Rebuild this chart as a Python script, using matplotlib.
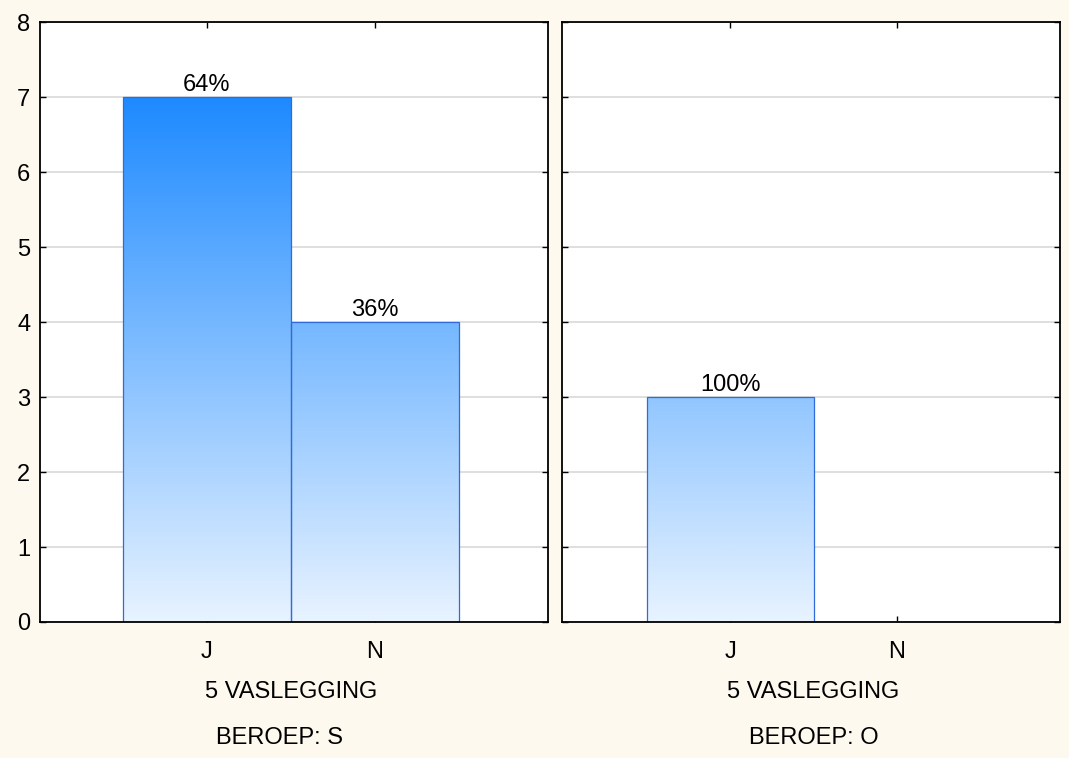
import matplotlib
matplotlib.use("Agg")
import matplotlib.pyplot as plt
import numpy as np
from matplotlib.colors import LinearSegmentedColormap

categories = ["J", "N"]
panels = ["BEROEP: S", "BEROEP: O"]
counts = [[7, 4], [3, 0]]
pct_labels = [["64%", "36%"], ["100%", ""]]
xlabel = "5 VASLEGGING"
yticks = [0, 1, 2, 3, 4, 5, 6, 7, 8]

plt.rcParams['font.family'] = ['Liberation Sans', 'DejaVu Sans']
FS = 17
BG = "#FDF9EE"
W, H = 1069, 758
fig = plt.figure(figsize=(W / 100, H / 100), dpi=100, facecolor=BG)

cmap = LinearSegmentedColormap.from_list("g", ["#E8F3FF", "#1E8AFF"])
vmax = max(max(c) for c in counts)

boxes = [(40, 548), (562, 1060)]
xlims = [(-0.994, 2.03), (-1.006, 1.976)]
title_x = [279, 814]
top, bottom = 22, 622
for i, (x0, x1) in enumerate(boxes):
    ax = fig.add_axes([x0 / W, 1 - bottom / H, (x1 - x0) / W, (bottom - top) / H])
    ax.set_facecolor("white")
    x = np.arange(len(categories))
    for xi, v, lab in zip(x, counts[i], pct_labels[i]):
        if v <= 0:
            continue
        grad = np.linspace(0, v / vmax, 256).reshape(-1, 1)
        ax.imshow(grad, extent=[xi - 0.5, xi + 0.5, 0, v], origin="lower",
                  cmap=cmap, vmin=0, vmax=1, aspect="auto", zorder=2,
                  interpolation="bilinear")
        ax.bar(xi, v, width=1.0, facecolor="none", edgecolor="#2F6BDA",
               linewidth=0.9, zorder=3)
        ax.annotate(lab, (xi, v), xytext=(0, 4), textcoords="offset points",
                    ha="center", va="baseline", fontsize=FS, zorder=4)
    ax.set_xlim(*xlims[i])
    ax.set_ylim(0, 8)
    ax.set_yticks(yticks)
    ax.set_xticks(x)
    ax.set_xticklabels(categories, fontsize=FS)
    ax.grid(axis="y", color="#D9D9D9", linewidth=1.2, zorder=1)
    ax.set_axisbelow(True)
    ax.tick_params(direction="in", length=4, width=1, top=True, right=True,
                   labelsize=FS)
    ax.tick_params(axis="x", pad=14)
    ax.tick_params(axis="y", pad=7)
    if i == 1:
        ax.tick_params(axis="y", labelleft=False)
    for s in ax.spines.values():
        s.set_linewidth(1.3)
        s.set_zorder(5)
    xc = ax.transData.transform((0.5, 0))[0] / W
    fig.text(xc, 1 - 692 / H, xlabel, ha="center", va="center", fontsize=FS)
    fig.text(title_x[i] / W, 1 - 738 / H, panels[i], ha="center", va="center", fontsize=FS)

fig.savefig("out.png", dpi=100, facecolor=BG)
